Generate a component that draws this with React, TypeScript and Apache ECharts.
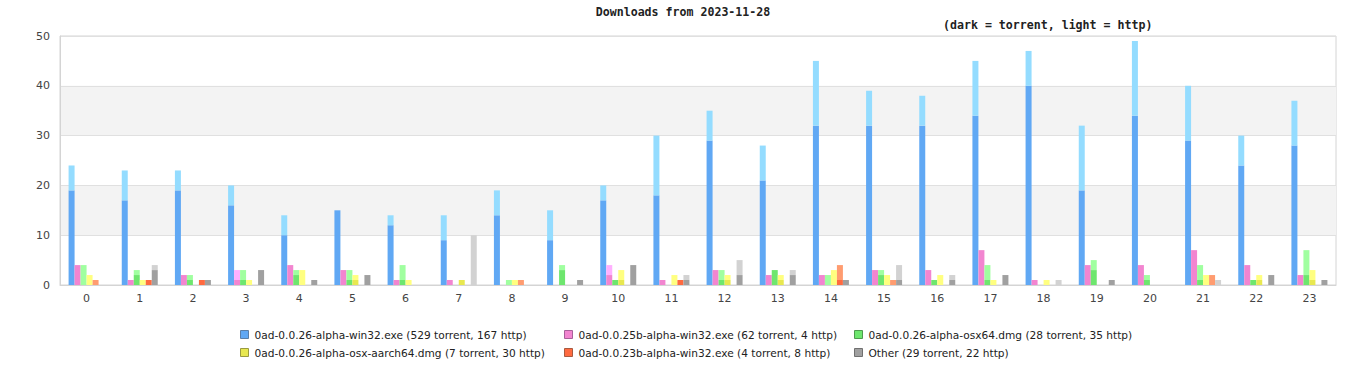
import React, { useEffect, useRef } from "react";
import * as echarts from "echarts";

const hours = ["0","1","2","3","4","5","6","7","8","9","10","11","12","13","14","15","16","17","18","19","20","21","22","23"];

const fileNames = [
  "0ad-0.0.26-alpha-win32.exe (529 torrent, 167 http)",
  "0ad-0.0.25b-alpha-win32.exe (62 torrent, 4 http)",
  "0ad-0.0.26-alpha-osx64.dmg (28 torrent, 35 http)",
  "0ad-0.0.26-alpha-osx-aarch64.dmg (7 torrent, 30 http)",
  "0ad-0.0.23b-alpha-win32.exe (4 torrent, 8 http)",
  "Other (29 torrent, 22 http)",
];

const win32Torrent = [19,17,19,16,10,15,12,9,14,9,17,18,29,21,32,32,32,34,40,19,34,29,24,28];
const win32Http    = [5,6,4,4,4,0,2,5,5,6,3,12,6,7,13,7,6,11,7,13,15,11,6,9];
const w25Torrent   = [4,1,2,1,4,3,1,1,0,0,2,1,3,2,2,3,3,7,1,4,4,7,4,2];
const w25Http      = [0,0,0,2,0,0,0,0,0,0,2,0,0,0,0,0,0,0,0,0,0,0,0,0];
const osxTorrent   = [0,2,1,1,2,1,1,0,0,3,1,0,1,3,0,2,1,1,0,3,1,1,1,2];
const osxHttp      = [4,1,1,2,1,2,3,0,1,1,0,0,2,0,2,1,0,3,0,2,1,3,0,5];
const armTorrent   = [0,0,0,0,0,1,0,1,0,0,1,0,1,1,0,0,0,0,0,0,0,0,1,1];
const armHttp      = [2,1,0,1,3,1,1,0,1,0,2,2,1,1,3,2,2,1,1,0,0,2,1,2];
const w23Torrent   = [0,1,1,0,0,0,0,0,0,0,0,1,0,0,1,0,0,0,0,0,0,0,0,0];
const w23Http      = [1,0,0,0,0,0,0,0,1,0,0,0,0,0,3,1,0,0,0,0,0,2,0,0];
const otherTorrent = [0,3,1,3,1,2,0,0,0,1,4,1,2,2,1,1,1,2,0,1,0,0,2,1];
const otherHttp    = [0,1,0,0,0,0,0,10,0,0,0,1,3,1,0,3,1,0,1,0,0,1,0,0];

const torrentData = [win32Torrent, w25Torrent, osxTorrent, armTorrent, w23Torrent, otherTorrent];
const httpData = [win32Http, w25Http, osxHttp, armHttp, w23Http, otherHttp];

const darkColors = ["#60a8f4", "#f285d0", "#6ee66e", "#e8e850", "#ff6a40", "#a0a0a0"];
const lightColors = ["#94dcff", "#ffb0ff", "#a0ffa0", "#ffff80", "#ff9c70", "#d2d2d2"];
const iconBorders = ["#5a7fa8", "#a8609a", "#4e9a4e", "#9a9a40", "#a85a40", "#707070"];

export default function App() {
  const ref = useRef<HTMLDivElement>(null);
  useEffect(() => {
    if (!ref.current) return;
    const chart = echarts.init(ref.current, null, { renderer: "svg" });
    const series: any[] = [];
    fileNames.forEach((name, i) => {
      series.push({
        type: "bar",
        name,
        stack: "s" + i,
        data: torrentData[i],
        barWidth: 6,
        barGap: "0%",
        itemStyle: { color: darkColors[i] },
      });
      series.push({
        type: "bar",
        name,
        stack: "s" + i,
        data: httpData[i],
        barWidth: 6,
        barGap: "0%",
        itemStyle: { color: lightColors[i] },
      });
    });
    const legendText = { fontFamily: "DejaVu Sans", fontSize: 10.6, color: "#222", padding: [0, 0, 0, 1] };
    const mkLegend = (idx: number[], left: number) => ({
      orient: "vertical",
      left,
      top: 329,
      padding: 0,
      itemGap: 7,
      itemWidth: 8,
      itemHeight: 8,
      icon: "rect",
      textStyle: legendText,
      data: idx.map((i) => ({
        name: fileNames[i],
        itemStyle: { color: darkColors[i], borderColor: iconBorders[i], borderWidth: 1 },
      })),
    });
    chart.setOption({
      animation: false,
      backgroundColor: "#ffffff",
      title: [
        {
          text: "Downloads from 2023-11-28",
          left: "center",
          top: 6,
          padding: 0,
          textStyle: { fontFamily: "DejaVu Sans Mono", fontWeight: "bold", fontSize: 11.6, color: "#222" },
        },
        {
          text: "(dark = torrent, light = http)",
          left: 943,
          top: 19,
          padding: 0,
          textStyle: { fontFamily: "DejaVu Sans Mono", fontWeight: "bold", fontSize: 11.6, color: "#222" },
        },
      ],
      legend: [mkLegend([0, 3], 240), mkLegend([1, 4], 564), mkLegend([2, 5], 854)],
      grid: {
        left: 60,
        right: 30,
        top: 36,
        bottom: 95,
        show: true,
        borderColor: "#d4d4d4",
        borderWidth: 1,
        backgroundColor: "transparent",
      },
      xAxis: {
        type: "category",
        data: hours,
        axisLine: { show: true, lineStyle: { color: "#d4d4d4" } },
        axisTick: { show: false },
        axisLabel: { fontFamily: "DejaVu Sans", fontSize: 11, color: "#444", margin: 8 },
      },
      yAxis: {
        type: "value",
        min: 0,
        max: 50,
        interval: 10,
        axisLine: { show: true, lineStyle: { color: "#d4d4d4" } },
        axisTick: { show: false },
        axisLabel: { fontFamily: "DejaVu Sans", fontSize: 11, color: "#444", margin: 10 },
        splitLine: { show: true, lineStyle: { color: "#e0e0e0" } },
        splitArea: { show: true, areaStyle: { color: ["rgba(255,255,255,0)", "#f3f3f3"] } },
      },
      series,
    });
    return () => chart.dispose();
  }, []);
  return (
    <div
      ref={ref}
      style={{ position: "absolute", left: 0, top: 0, width: 1366, height: 380 }}
    />
  );
}
